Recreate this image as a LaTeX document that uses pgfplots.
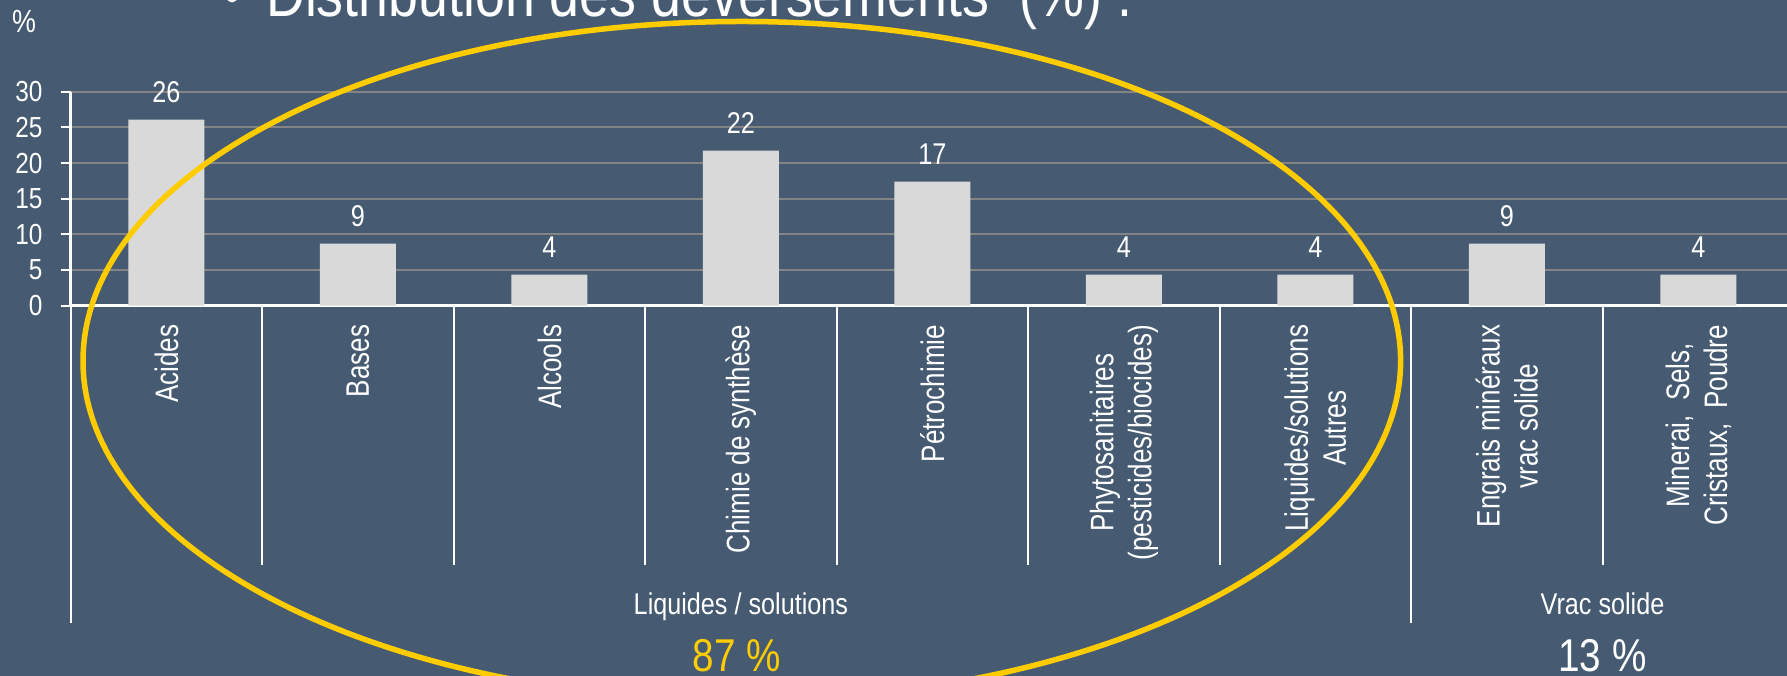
\documentclass[border=0pt]{standalone}
\usepackage{fontspec}
\setmainfont{Liberation Sans}
\newfontfamily\narrow[FakeStretch=0.84]{Liberation Sans}
\newfontfamily\narrowb[FakeStretch=0.80]{Liberation Sans}
\usepackage{pgfplots}
\pgfplotsset{compat=1.18}
\definecolor{bg}{RGB}{70,91,114}
\definecolor{barc}{RGB}{217,217,217}
\definecolor{gridc}{RGB}{132,132,132}
\definecolor{ell}{RGB}{255,204,0}
\begin{document}
\begin{tikzpicture}[x=1pt,y=1pt]
\useasboundingbox (0,0) rectangle (1787,676);
\fill[bg] (0,0) rectangle (1787,676);
\clip (0,0) rectangle (1787,676);
\begin{axis}[
  at={(70.7pt,370.3pt)}, anchor=south west,
  scale only axis, width=1716.3pt, height=214pt,
  xmin=-0.5, xmax=8.463, ymin=0, ymax=30,
  enlargelimits=false, clip=false,
  axis x line=bottom, axis y line=left,
  axis line style={-, white, line width=2.5pt},
  x axis line style={-}, y axis line style={-},
  ytick={0,5,...,30}, xtick={0,...,8},
  xticklabels={Acides, Bases, Alcools, Chimie de synthèse, Pétrochimie,
    {Phytosanitaires\\(pesticides/biocides)}, {Liquides/solutions\\Autres},
    {Engrais minéraux\\vrac solide}, {Minerai,\ \ Sels,\\Cristaux,\ \ Poudre}},
  tick align=outside, major tick length=10pt,
  y tick style={white, line width=2pt},
  x tick style={draw=none},
  ymajorgrids, grid style={gridc, line width=1.8pt},
  yticklabel style={font=\narrow\fontsize{29}{31}\selectfont, text=white, inner sep=0pt, xshift=-18pt},
  xticklabel shift=9pt,
  xticklabel style={font=\narrowb\fontsize{32.5}{38}\selectfont, text=white, rotate=90, anchor=east, align=center, inner sep=0pt},
  /pgf/number format/assume math mode=true,
  /pgf/number format/fixed, /pgf/number format/precision=0,
  ybar, bar width=0.397,
  nodes near coords,
  every node near coord/.append style={font=\narrow\fontsize{30}{32}\selectfont, text=white, inner sep=0pt, yshift=17pt, anchor=south},
]
\addplot[fill=barc, draw=none] coordinates {(0,26.09) (1,8.70) (2,4.35) (3,21.74) (4,17.39) (5,4.35) (6,4.35) (7,8.70) (8,4.35)};
\draw[white, line width=2pt] (axis cs:-0.5,0) -- ++(0pt,-317pt);
\draw[white, line width=2pt] (axis cs:6.5,0) -- ++(0pt,-317pt);
\draw[white, line width=2pt] (axis cs:0.5,0) -- ++(0pt,-259pt);
\draw[white, line width=2pt] (axis cs:1.5,0) -- ++(0pt,-259pt);
\draw[white, line width=2pt] (axis cs:2.5,0) -- ++(0pt,-259pt);
\draw[white, line width=2pt] (axis cs:3.5,0) -- ++(0pt,-259pt);
\draw[white, line width=2pt] (axis cs:4.5,0) -- ++(0pt,-259pt);
\draw[white, line width=2pt] (axis cs:5.5,0) -- ++(0pt,-259pt);
\draw[white, line width=2pt] (axis cs:7.5,0) -- ++(0pt,-259pt);
\end{axis}
\fill[white] (232,679) circle (5.5);
\node[anchor=base west, inner sep=0pt, text=white, font=\narrow\fontsize{64}{72}\selectfont] at (266,659) {Distribution des déversements\ \ (\%) :};
\node[text=white, inner sep=0pt, font=\narrow\fontsize{32}{36}\selectfont] at (24,654) {\%};
\node[anchor=base, inner sep=0pt, text=white, font=\narrow\fontsize{30}{34}\selectfont] at (740.9,61) {Liquides / solutions};
\node[anchor=base, inner sep=0pt, text=ell, font=\narrow\fontsize{46}{50}\selectfont] at (737,4.3) {87 \%};
\node[anchor=base, inner sep=0pt, text=white, font=\narrow\fontsize{30}{34}\selectfont] at (1602.5,61) {Vrac solide};
\node[anchor=base, inner sep=0pt, text=white, font=\narrow\fontsize{46}{50}\selectfont] at (1602.5,4.3) {13 \%};
\draw[ell, line width=5.5pt] (741.8,315) ellipse [x radius=658.8, y radius=339.5];
\end{tikzpicture}
\end{document}
